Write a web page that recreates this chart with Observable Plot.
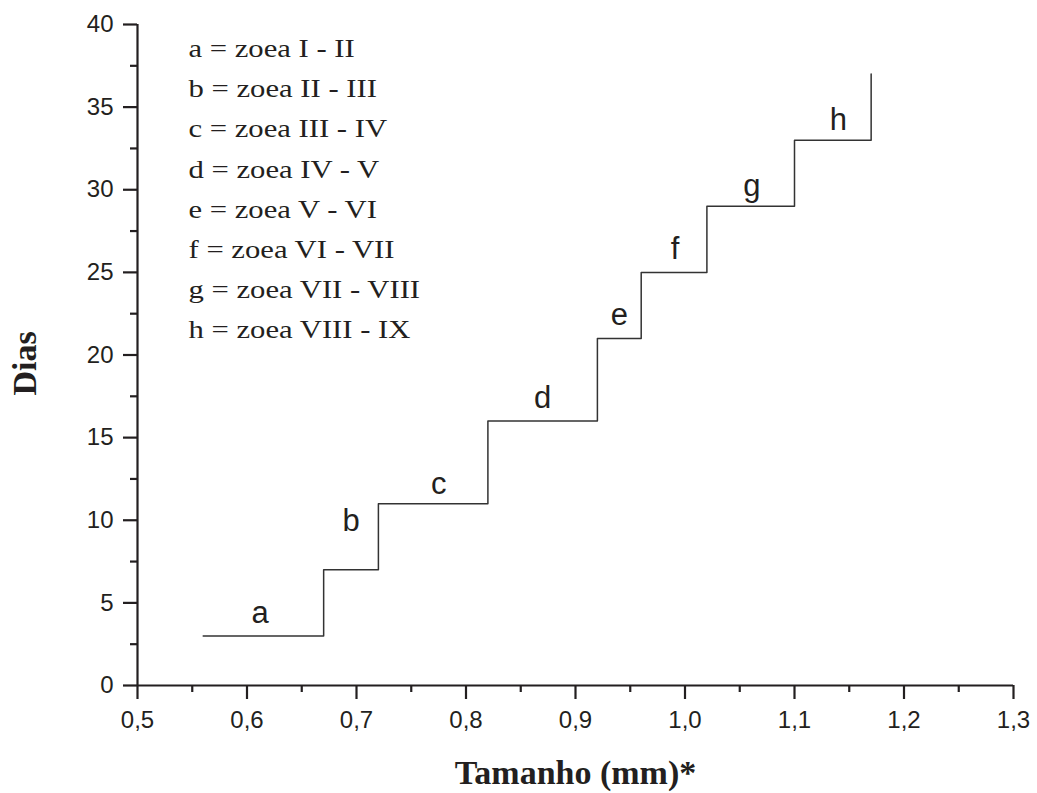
<!DOCTYPE html>
<html>
<head>
<meta charset="utf-8">
<script src="https://cdn.jsdelivr.net/npm/d3@7"></script>
<script src="https://cdn.jsdelivr.net/npm/@observablehq/plot@0.6"></script>
<style>
  body { margin: 0; background: #ffffff; }
  svg g[aria-label="x-axis tick"], svg g[aria-label="y-axis tick"] { stroke-width: 2.2px; }
  svg g[aria-label="x-axis tick"] path, svg g[aria-label="y-axis tick"] path { stroke-width: 2.2px; }
</style>
</head>
<body>
<div id="chart"></div>
<script>
// Step series: size (mm) at which each moult happens, and day count
const sizes = [0.56, 0.67, 0.72, 0.82, 0.92, 0.96, 1.02, 1.10, 1.17];
const days  = [3, 7, 11, 16, 21, 25, 29, 33, 37];

// Stage letters placed above each step
const stageLetters = ["a", "b", "c", "d", "e", "f", "g", "h"];
const letterSize   = [0.612, 0.695, 0.775, 0.870, 0.940, 0.991, 1.061, 1.140];
const letterDay    = [3.76, 9.33, 11.6, 16.8, 21.8, 25.8, 29.6, 33.6];

// Legend text
const legendLines = [
  "a = zoea I - II",
  "b = zoea II - III",
  "c = zoea III - IV",
  "d = zoea IV - V",
  "e = zoea V - VI",
  "f = zoea VI - VII",
  "g = zoea VII - VIII",
  "h = zoea VIII - IX"
];

// Ticks
const xTicks = [0.5, 0.6, 0.7, 0.8, 0.9, 1.0, 1.1, 1.2, 1.3];
const xMinorTicks = [0.55, 0.65, 0.75, 0.85, 0.95, 1.05, 1.15, 1.25];
const yTicks = [0, 5, 10, 15, 20, 25, 30, 35, 40];
const yMinorTicks = [2.5, 7.5, 12.5, 17.5, 22.5, 27.5, 32.5, 37.5];

const xLabel = "Tamanho (mm)*";
const yLabel = "Dias";

const stepData = sizes.map((s, i) => ({size: s, day: days[i]}));
const letterData = stageLetters.map((t, i) => ({t, size: letterSize[i], day: letterDay[i]}));
const fmt = d => d.toFixed(1).replace(".", ",");

const ink = "#231f20";
const serif = "'Liberation Serif', 'Times New Roman', serif";

const chart = Plot.plot({
  width: 1037,
  height: 793,
  marginLeft: 137,
  marginRight: 24,
  marginTop: 24,
  marginBottom: 108,
  x: {domain: [0.5, 1.3]},
  y: {domain: [0, 40]},
  style: {fontFamily: "'Liberation Sans', Arial, sans-serif", fontSize: "24px", background: "#ffffff", color: ink},
  marks: [
    Plot.axisX(xMinorTicks, {tickSize: 7, strokeWidth: 2.2, tickFormat: () => "", label: null}),
    Plot.axisX(xTicks, {tickSize: 14, tickPadding: 11, strokeWidth: 2.2, tickFormat: fmt, fontSize: 24, label: null}),
    Plot.axisY(yMinorTicks, {tickSize: 7, strokeWidth: 2.2, tickFormat: () => "", label: null}),
    Plot.axisY(yTicks, {tickSize: 14, tickPadding: 10, strokeWidth: 2.2, fontSize: 24, label: null}),
    Plot.ruleY([0], {stroke: ink, strokeWidth: 2.2}),
    Plot.ruleX([0.5], {stroke: ink, strokeWidth: 2.2}),
    Plot.line(stepData, {x: "size", y: "day", curve: "step-after", stroke: "#333333", strokeWidth: 1.5}),
    Plot.text(letterData, {x: "size", y: "day", text: "t", fontSize: 31, lineAnchor: "bottom", textAnchor: "middle", fill: ink}),
    Plot.text([legendLines.join("\n")], {
      frameAnchor: "top-left", dx: 51, dy: 4, textAnchor: "start", lineAnchor: "top",
      lineHeight: 40.2 / 26, fontSize: 26, fontFamily: serif, fill: ink
    }),
    Plot.text([yLabel], {
      frameAnchor: "left", dx: -112, dy: 8.5, rotate: -90, textAnchor: "middle", lineAnchor: "middle",
      fontSize: 34, fontWeight: "bold", fontFamily: serif, fill: ink
    }),
    Plot.text([xLabel], {
      frameAnchor: "bottom", dy: 98, textAnchor: "middle", lineAnchor: "bottom",
      fontSize: 34, fontWeight: "bold", fontFamily: serif, fill: ink
    })
  ]
});

// The legend in the reference is set in a wider serif; stretch it horizontally
chart.querySelectorAll("text").forEach(t => {
  if (t.textContent.includes("zoea")) {
    const tr = t.getAttribute("transform") || "";
    t.setAttribute("transform", (tr + " scale(1.18,1)").trim());
  }
});

document.getElementById("chart").appendChild(chart);
</script>
</body>
</html>
